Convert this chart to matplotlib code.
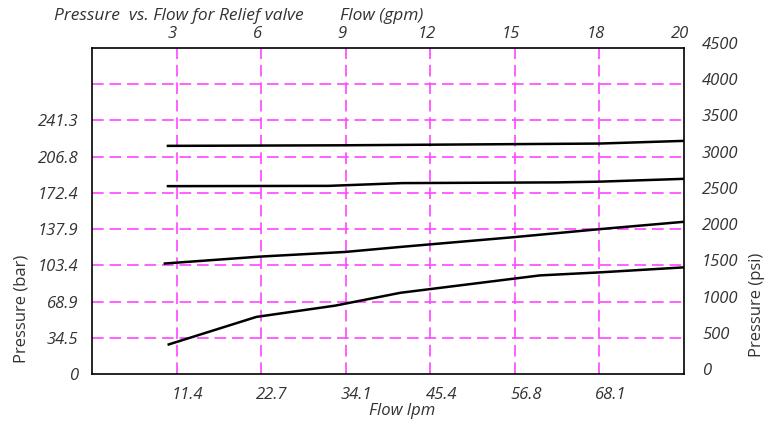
import matplotlib
matplotlib.use("Agg")
import matplotlib.pyplot as plt
import matplotlib.transforms as mtransforms

# ---- data (flow in gpm, pressure in psi) ----
gpm_a = [2.65, 8.9, 18.0, 21.0]
psi_a = [3149, 3157, 3181, 3218]

gpm_b = [2.65, 8.4, 11.0, 16.5, 18.0, 21.0]
psi_b = [2593, 2597, 2635, 2645, 2655, 2694]

gpm_c = [2.54, 5.98, 8.99, 10.94, 14.97, 18.02, 21.0]
psi_c = [1524, 1621, 1685, 1754, 1889, 2000, 2101]

gpm_d = [2.68, 5.83, 8.63, 10.94, 15.89, 18.02, 21.0]
psi_d = [403, 788, 944, 1121, 1361, 1403, 1472]

top_ticks = [3, 6, 9, 12, 15, 18, 21]
top_labels = ["3", "6", "9", "12", "15", "18", "20"]
bottom_ticks = [3, 6, 9, 12, 15, 18]
bottom_labels = ["11.4", "22.7", "34.1", "45.4", "56.8", "68.1"]
bar_ticks = [0, 500, 1000, 1500, 2000, 2500, 3000, 3500]
bar_labels = ["0", "34.5", "68.9", "103.4", "137.9", "172.4", "206.8", "241.3"]
psi_ticks = [0, 500, 1000, 1500, 2000, 2500, 3000, 3500, 4000, 4500]
psi_labels = ["0", "500", "1000", "1500", "2000", "2500", "3000", "3500", "4000", "4500"]
hgrid = [500, 1000, 1500, 2000, 2500, 3000, 3500, 4000]
vgrid = [3, 6, 9, 12, 15, 18]

plt.rcParams['font.family'] = ['Open Sans', 'DejaVu Sans']

W, H = 764, 423
top_px, bot_px = 48, 374
fig = plt.figure(figsize=(W / 100, H / 100), dpi=100)
ax = fig.add_axes([92 / W, (H - bot_px) / H, 592 / W, (bot_px - top_px) / H])
ax.set_xlim(0, 21)
ax.set_ylim(0, 4500)

gcol = '#ff44ff'
for v in hgrid:
    ax.axhline(v, color=gcol, lw=1.4, ls=(0, (6, 3)), alpha=0.85, zorder=1)
for v in vgrid:
    ax.axvline(v, color=gcol, lw=1.4, ls=(0, (6, 3)), alpha=0.85, zorder=1)

for xs, ys in [(gpm_a, psi_a), (gpm_b, psi_b), (gpm_c, psi_c), (gpm_d, psi_d)]:
    ax.plot(xs, ys, color='black', lw=1.8, zorder=3, solid_capstyle='butt')

for s in ax.spines.values():
    s.set_color('black')
    s.set_linewidth(1.2)

tcol = '#333333'
fs = 12
ax.set_yticks(bar_ticks)
ax.set_yticklabels(bar_labels, fontsize=fs, style='italic', color=tcol)
ax.set_xticks(bottom_ticks)
ax.set_xticklabels(bottom_labels, fontsize=fs, style='italic', color=tcol)
ax.tick_params(axis='both', length=0)
ax.tick_params(axis='y', pad=10)
ax.tick_params(axis='x', pad=9)
off = mtransforms.ScaledTranslation(11 / 100, 0, fig.dpi_scale_trans)
for lab in ax.get_xticklabels():
    lab.set_transform(lab.get_transform() + off)

ax2 = ax.twinx()
ax2.set_ylim(0, 4500)
ax2.set_yticks(psi_ticks)
ax2.set_yticklabels(psi_labels, fontsize=fs, style='italic', color=tcol, ha='left')
ax2.tick_params(axis='y', length=0, pad=13)
off2 = mtransforms.ScaledTranslation(0, 5 / 100, fig.dpi_scale_trans)
for lab in ax2.get_yticklabels():
    lab.set_transform(lab.get_transform() + off2)
for s in ax2.spines.values():
    s.set_visible(False)

ax3 = ax.twiny()
ax3.set_xlim(0, 21)
ax3.set_xticks(top_ticks)
ax3.set_xticklabels(top_labels, fontsize=fs, style='italic', color=tcol)
ax3.tick_params(axis='x', length=0, pad=4)
off3 = mtransforms.ScaledTranslation(-4 / 100, 0, fig.dpi_scale_trans)
for lab in ax3.get_xticklabels():
    lab.set_transform(lab.get_transform() + off3)
for s in ax3.spines.values():
    s.set_visible(False)

fig.text(54 / W, 1 - 16 / H, "Pressure  vs. Flow for Relief valve", fontsize=12.5,
         style='italic', color=tcol, ha='left', va='center')
fig.text(340 / W, 1 - 16 / H, "Flow (gpm)", fontsize=12.5, style='italic',
         color=tcol, ha='left', va='center')
fig.text(402 / W, 1 - 411 / H, "Flow lpm", fontsize=fs, style='italic',
         color=tcol, ha='center', va='center')
fig.text(22 / W, 1 - 309 / H, "Pressure (bar)", fontsize=fs, color=tcol,
         rotation=90, ha='center', va='center')
fig.text(757 / W, 1 - 305 / H, "Pressure (psi)", fontsize=fs, color=tcol,
         rotation=90, ha='center', va='center')

fig.savefig("out.png", dpi=100)
